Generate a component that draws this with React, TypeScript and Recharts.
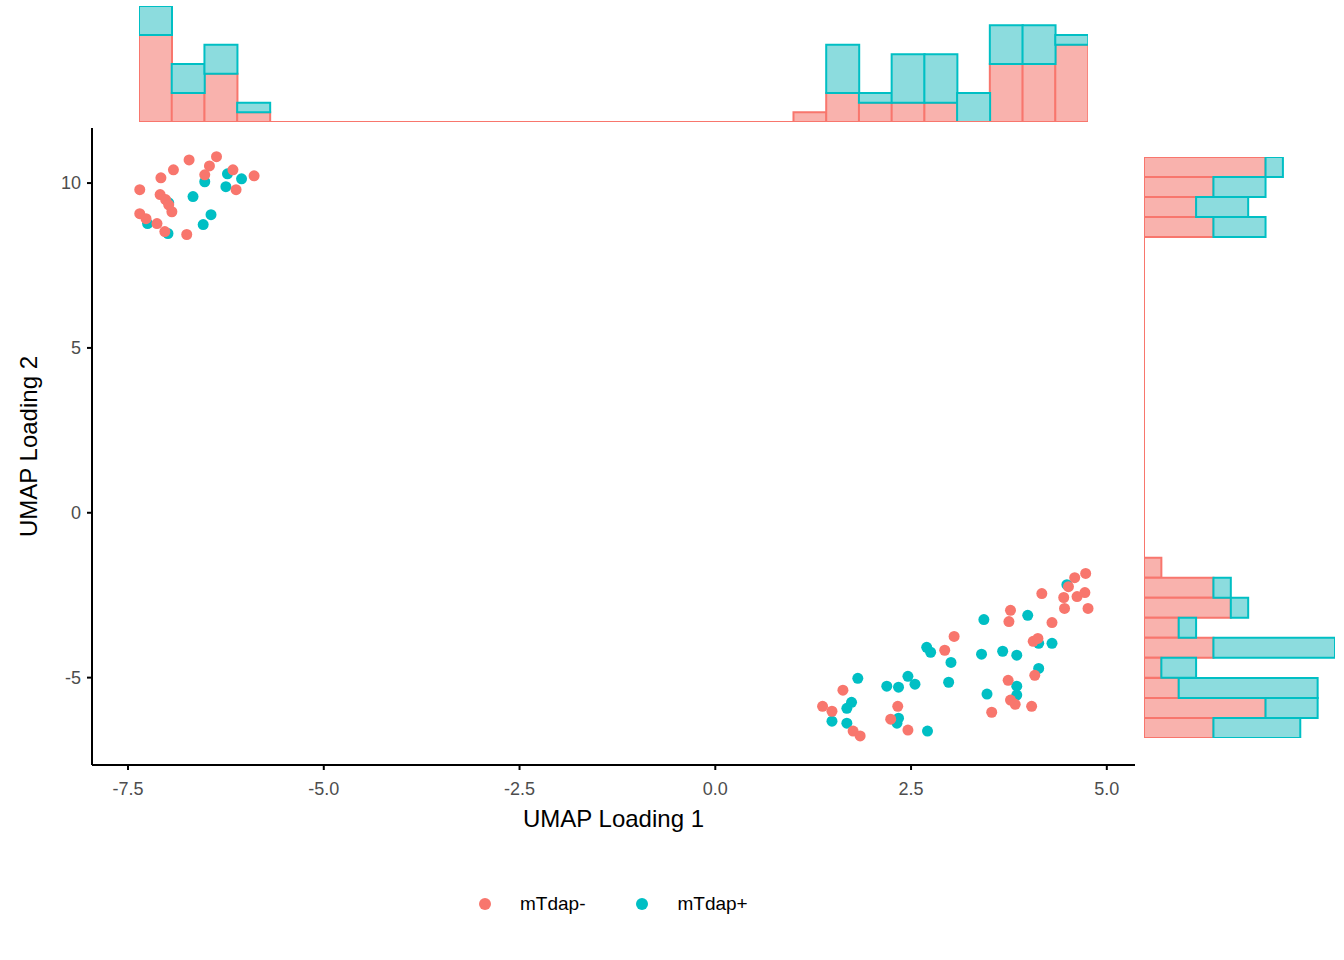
import React from "react";
import { ScatterChart, Scatter, XAxis, YAxis, Legend, BarChart, Bar, ReferenceLine } from "recharts";

const RED = "#F8766D";
const TEAL = "#00BFC4";
const RED_FILL = "#F9B2AD";
const TEAL_FILL = "#8CDCDE";

const negX = [-7.35,-7.35,-7.27,-7.13,-7.09,-7.08,-7.02,-7.03,-6.94,-6.92,-6.72,-6.75,-6.52,-6.46,-6.37,-6.16,-6.12,-5.89,-6.98,
  1.37,1.49,1.63,1.76,1.85,2.33,2.24,2.46,3.05,2.93,3.53,3.74,3.77,3.83,4.04,4.08,3.77,3.75,4.06,4.12,4.17,4.30,4.45,4.46,4.51,4.59,4.73,4.62,4.72,4.76];
const negY = [9.80,9.07,8.92,8.77,9.65,10.16,9.50,8.53,9.13,10.40,10.70,8.44,10.25,10.52,10.80,10.40,9.80,10.22,9.34,
  -5.87,-6.02,-5.38,-6.62,-6.77,-5.87,-6.26,-6.59,-3.75,-4.17,-6.05,-5.08,-5.68,-5.81,-5.87,-4.93,-2.96,-3.30,-3.90,-3.81,-2.45,-3.33,-2.57,-2.90,-2.24,-1.97,-1.84,-2.54,-2.42,-2.90];
const posX = [-7.25,-6.98,-6.99,-6.67,-6.52,-6.44,-6.54,-6.25,-6.23,-6.05,
  1.82,1.74,1.68,1.49,1.68,2.19,2.34,2.46,2.55,2.32,2.34,2.71,2.70,2.75,3.01,2.98,3.43,3.40,3.47,3.67,3.85,3.85,3.85,3.99,4.13,4.30,4.13,4.49];
const posY = [8.77,9.40,8.47,9.59,10.04,9.04,8.74,9.89,10.28,10.13,
  -5.02,-5.75,-5.93,-6.32,-6.38,-5.26,-5.29,-4.96,-5.20,-6.38,-6.23,-6.62,-4.08,-4.23,-4.54,-5.14,-3.24,-4.29,-5.50,-4.20,-4.32,-5.26,-5.53,-3.11,-3.96,-3.96,-4.72,-2.18];

// top marginal histogram, 29 bins left to right
const topRed = [9,3,5,1,0,0,0,0,0,0,0,0,0,0,0,0,0,0,0,0,1,3,2,2,2,0,6,6,8];
const topTeal = [3,3,3,1,0,0,0,0,0,0,0,0,0,0,0,0,0,0,0,0,0,5,1,5,5,3,4,4,1];
// right marginal histogram, 29 bins bottom to top
const rightRed = [4,7,2,1,4,2,5,4,1,0,0,0,0,0,0,0,0,0,0,0,0,0,0,0,0,4,3,4,7];
const rightTeal = [5,3,8,2,7,1,1,1,0,0,0,0,0,0,0,0,0,0,0,0,0,0,0,0,0,3,3,3,1];

const xTicks = [-7.5, -5, -2.5, 0, 2.5, 5];
const yTicks = [-5, 0, 5, 10];

const negData = negX.map((x, i) => ({ x, y: negY[i] }));
const posData = posX.map((x, i) => ({ x, y: posY[i] }));
const topData = topRed.map((r, i) => ({ b: i, red: r, teal: topTeal[i] }));
const rightData = rightRed.map((r, i) => ({ b: i, red: r, teal: rightTeal[i] })).reverse();

const FONT = "Liberation Sans, Arial, sans-serif";
const tickStyle = { fill: "#4d4d4d", fontSize: 18, fontFamily: FONT };

const dot = (color: string) => (p: any) => <circle cx={p.cx} cy={p.cy} r={5.5} fill={color} />;

const LegendContent = () => (
  <div style={{ display: "flex", fontFamily: FONT, fontSize: 19, color: "#000" }}>
    {[{ c: RED, t: "mTdap-" }, { c: TEAL, t: "mTdap+" }].map((d) => (
      <div key={d.t} style={{ display: "flex", alignItems: "center", marginRight: 50 }}>
        <svg width={14} height={14} style={{ marginRight: 28 }}><circle cx={7} cy={7} r={6} fill={d.c} /></svg>
        <span>{d.t}</span>
      </div>
    ))}
  </div>
);

export default function App() {
  return (
    <div style={{ position: "absolute", left: 0, top: 0, width: 1344, height: 960, background: "#fff" }}>
      <div style={{ position: "absolute", left: 0, top: 0 }}>
        <ScatterChart width={1344} height={960} margin={{ top: 128, left: 32, right: 209, bottom: 133 }}>
          <XAxis type="number" dataKey="x" domain={[-7.96, 5.36]} ticks={xTicks} allowDataOverflow
            tickFormatter={(v: number) => v.toFixed(1)} stroke="#000" strokeWidth={2} tick={tickStyle} fontSize={18} tickSize={5} tickMargin={12} height={40}
            label={{ value: "UMAP Loading 1", position: "insideBottom", offset: -22, style: { fontSize: 24, fill: "#000", fontFamily: FONT } }} />
          <YAxis type="number" dataKey="y" domain={[-7.65, 11.67]} ticks={yTicks} allowDataOverflow
            stroke="#000" strokeWidth={2} tick={tickStyle} fontSize={18} tickSize={5} tickMargin={6} width={60}
            label={{ value: "UMAP Loading 2", angle: -90, position: "insideLeft", offset: -4, style: { fontSize: 24, fill: "#000", textAnchor: "middle", fontFamily: FONT } }} />
          <Legend content={LegendContent} wrapperStyle={{ position: "absolute", left: 478, top: 893, width: 400 }} />
          <Scatter data={posData} fill={TEAL} shape={dot(TEAL)} isAnimationActive={false} />
          <Scatter data={negData} fill={RED} shape={dot(RED)} isAnimationActive={false} />
        </ScatterChart>
      </div>
      <div style={{ position: "absolute", left: 139, top: 6 }}>
        <BarChart width={949} height={116} data={topData} margin={{ top: 0, left: 0, right: 0, bottom: 0 }} barCategoryGap={0}>
          <XAxis dataKey="b" hide />
          <YAxis type="number" domain={[0, 12]} hide />
          <Bar dataKey="red" stackId="a" fill={RED_FILL} stroke={RED} strokeWidth={2} isAnimationActive={false} />
          <Bar dataKey="teal" stackId="a" fill={TEAL_FILL} stroke={TEAL} strokeWidth={2} isAnimationActive={false} />
          <ReferenceLine y={0} stroke={RED} strokeWidth={2} />
        </BarChart>
      </div>
      <div style={{ position: "absolute", left: 1144, top: 157 }}>
        <BarChart width={191} height={581} data={rightData} layout="vertical" margin={{ top: 0, left: 0, right: 0, bottom: 0 }} barCategoryGap={0}>
          <YAxis type="category" dataKey="b" hide />
          <XAxis type="number" domain={[0, 11]} hide />
          <Bar dataKey="red" stackId="a" fill={RED_FILL} stroke={RED} strokeWidth={2} isAnimationActive={false} />
          <Bar dataKey="teal" stackId="a" fill={TEAL_FILL} stroke={TEAL} strokeWidth={2} isAnimationActive={false} />
          <ReferenceLine x={0} stroke={RED} strokeWidth={2} />
        </BarChart>
      </div>
    </div>
  );
}
